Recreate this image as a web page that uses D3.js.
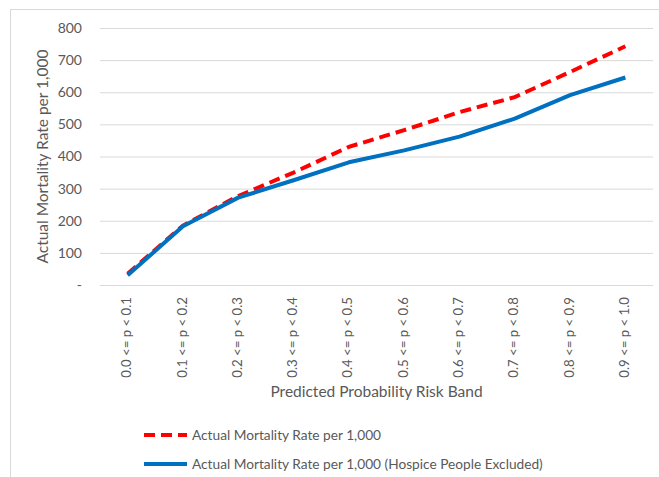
<!DOCTYPE html>
<html><head><meta charset="utf-8">
<script src="https://cdn.jsdelivr.net/npm/d3@7"></script>
<style>body{margin:0;background:#fff}svg{display:block}text{font-family:Lato,"Open Sans",sans-serif;fill:#595959}</style>
</head><body><svg id="c" width="659" height="477"></svg>
<script>
const categories = ["0.0 <= p < 0.1","0.1 <= p < 0.2","0.2 <= p < 0.3","0.3 <= p < 0.4","0.4 <= p < 0.5","0.5 <= p < 0.6","0.6 <= p < 0.7","0.7 <= p < 0.8","0.8 <= p < 0.9","0.9 <= p < 1.0"];
const seriesAll = [35, 185, 277, 350, 430, 482, 538, 585, 663, 743];
const seriesExcl = [30, 183, 272, 326, 382, 419, 462, 518, 591, 646];
const yTicks = [0,100,200,300,400,500,600,700,800];
const seriesNames = ["Actual Mortality Rate per 1,000","Actual Mortality Rate per 1,000 (Hospice People Excluded)"];
const xTitle = "Predicted Probability Risk Band";
const yTitle = "Actual Mortality Rate per 1,000";

const svg = d3.select("#c");
svg.append("rect").attr("x",10.5).attr("y",9.5).attr("width",700).attr("height",500)
  .attr("fill","none").attr("stroke","#d9d9d9");

const L=100,R=653,T=28,B=285;
const x = d3.scaleBand().domain(categories).range([L,R]);
const y = d3.scaleLinear().domain([0,800]).range([B,T]);

const gy = svg.append("g").attr("transform",`translate(${L},0)`)
  .call(d3.axisLeft(y).tickValues(yTicks).tickSize(-(R-L)).tickPadding(18)
    .tickFormat(d=>d===0?"-":d3.format(",")(d)));
gy.select(".domain").remove();
gy.selectAll("line").attr("stroke","#d9d9d9").attr("stroke-width",1);
gy.selectAll("text").attr("font-size",14).style("fill","#595959").style("font-family","Lato");

const gx = svg.append("g").attr("transform",`translate(0,${B})`)
  .call(d3.axisBottom(x).tickSize(0).tickPadding(0));
gx.select(".domain").remove();
gx.selectAll("text").attr("font-size",13.2).style("fill","#595959").style("font-family","Lato")
  .attr("text-anchor","end").attr("transform","rotate(-90)").attr("x",-12).attr("y",-1).attr("dy","0.35em");

svg.append("text").attr("x",(L+R)/2).attr("y",397).attr("text-anchor","middle")
  .attr("font-size",15.5).text(xTitle);
svg.append("text").attr("transform",`translate(48,${(T+B)/2}) rotate(-90)`).attr("text-anchor","middle")
  .attr("font-size",15.5).text(yTitle);

const line = d3.line().x((d,i)=>x(categories[i])+x.bandwidth()/2).y(d=>y(d));
svg.append("path").datum(seriesAll).attr("d",line).attr("fill","none")
  .attr("stroke","#ff0000").attr("stroke-width",4).attr("stroke-dasharray","11,6");
svg.append("path").datum(seriesExcl).attr("d",line).attr("fill","none")
  .attr("stroke","#0070c0").attr("stroke-width",4).attr("stroke-linejoin","round");

const leg = [{c:"#ff0000",d:"11,6",t:seriesNames[0],y:435},{c:"#0070c0",d:null,t:seriesNames[1],y:464}];
leg.forEach(l=>{
  svg.append("line").attr("x1",144).attr("x2",187).attr("y1",l.y).attr("y2",l.y)
    .attr("stroke",l.c).attr("stroke-width",4).attr("stroke-dasharray",l.d);
  svg.append("text").attr("x",192).attr("y",l.y).attr("dy","0.35em").attr("font-size",13.7).text(l.t);
});
</script></body></html>
